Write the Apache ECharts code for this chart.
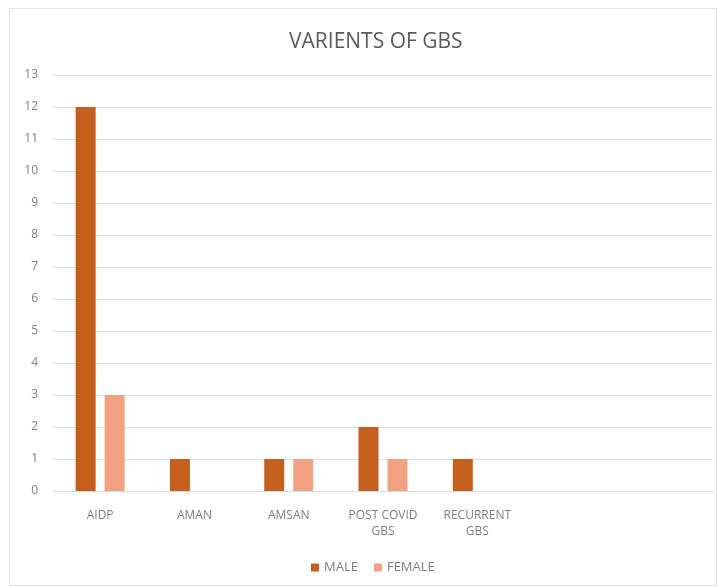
<!DOCTYPE html>
<html>
<head>
<meta charset="utf-8">
<script src="https://cdn.jsdelivr.net/npm/echarts@6/dist/echarts.min.js"></script>
<style>
  html, body { margin: 0; padding: 0; background: #fff; }
  #frame {
    position: absolute; left: 9px; top: 8px; width: 708px; height: 578px;
    border: 1px solid #e3e3e3; box-sizing: border-box;
  }
  #chart { position: absolute; left: 0; top: 0; width: 718px; height: 588px; }
</style>
</head>
<body>
<div id="frame"></div>
<div id="chart"></div>
<script>
// two trailing empty categories keep the plot area wide, like the original
const categories = ['AIDP', 'AMAN', 'AMSAN', 'POST COVID\nGBS', 'RECURRENT\nGBS', '', '']
const maleValues = [12, 1, 1, 2, 1, '-', '-']
const femaleValues = [3, '-', 1, 1, '-', '-', '-']
const seriesNames = ['MALE', 'FEMALE']

const myChart = echarts.init(document.getElementById('chart'))
const option = {
  textStyle: { fontFamily: 'Open Sans' },
  title: {
    text: 'VARIENTS OF GBS',
    left: 284,
    top: 27,
    textStyle: { color: '#595959', fontSize: 21, fontWeight: 'normal' }
  },
  legend: {
    bottom: 9,
    left: 306,
    itemWidth: 8,
    itemHeight: 8,
    itemGap: 16,
    icon: 'rect',
    textStyle: { color: '#7f7f7f', fontSize: 13 },
    data: seriesNames
  },
  grid: { left: 53, right: 5, top: 75, bottom: 97 },
  xAxis: {
    type: 'category',
    data: categories,
    axisLine: { lineStyle: { color: '#d9d9d9' } },
    axisTick: { show: false },
    axisLabel: { color: '#7f7f7f', fontSize: 12, margin: 17, lineHeight: 16, interval: 0 }
  },
  yAxis: {
    type: 'value',
    min: 0,
    max: 13,
    interval: 1,
    axisLine: { show: false },
    axisTick: { show: false },
    axisLabel: { color: '#7f7f7f', fontSize: 12, margin: 15 },
    splitLine: { lineStyle: { color: '#e0e0e0' } }
  },
  series: [
    {
      name: seriesNames[0],
      type: 'bar',
      data: maleValues,
      barWidth: 20,
      barGap: '45%',
      itemStyle: { color: '#C55F1E' }
    },
    {
      name: seriesNames[1],
      type: 'bar',
      data: femaleValues,
      barWidth: 20,
      itemStyle: { color: '#F2A283' }
    }
  ]
}
myChart.setOption(option, true)
</script>
</body>
</html>
